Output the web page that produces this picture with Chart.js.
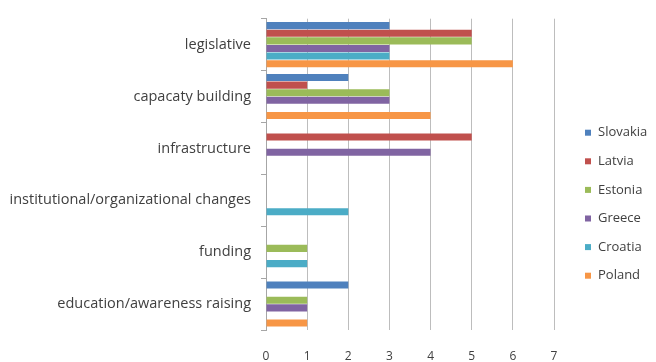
<!DOCTYPE html>
<html><head><meta charset="utf-8">
<script src="https://cdn.jsdelivr.net/npm/chart.js@4"></script>
<style>
html,body{margin:0;padding:0;background:#fff}
#wrap{width:656px;height:362px;position:relative}
</style>
</head><body>
<div id="wrap"><canvas id="c"></canvas></div>
<script>
// Measures by area, counted per country
const categories = ['legislative', 'capacaty building', 'infrastructure',
  'institutional/organizational changes', 'funding', 'education/awareness raising'];
const countries = ['Slovakia', 'Latvia', 'Estonia', 'Greece', 'Croatia', 'Poland'];
const slovakia = [3, 2, 0, 0, 0, 2];
const latvia   = [5, 1, 5, 0, 0, 0];
const estonia  = [5, 3, 0, 0, 1, 1];
const greece   = [3, 3, 4, 0, 0, 1];
const croatia  = [3, 0, 0, 2, 1, 0];
const poland   = [6, 4, 0, 0, 0, 1];
const xTicks   = [0, 1, 2, 3, 4, 5, 6, 7];

const seriesValues = [slovakia, latvia, estonia, greece, croatia, poland];
const colors = ['#4F81BD', '#C0504D', '#9BBB59', '#8064A2', '#4BACC6', '#F79646'];
const FONT = 'Open Sans';
const TEXT = '#404040';

// Legend drawn to the right of the plot, one row per country
const sideLegend = {
  id: 'sideLegend',
  afterDraw(chart) {
    const ctx = chart.ctx;
    const area = chart.chartArea;
    const x = area.right + 31;
    const y0 = area.top + 114;
    const step = 28.6;
    ctx.save();
    ctx.font = '13px "' + FONT + '"';
    ctx.textBaseline = 'middle';
    ctx.textAlign = 'left';
    chart.data.datasets.forEach((ds, i) => {
      const y = y0 + i * step;
      ctx.fillStyle = ds.backgroundColor;
      ctx.fillRect(x, y - 3, 6, 6);
      ctx.fillStyle = TEXT;
      ctx.fillText(ds.label, x + 13, y);
    });
    ctx.restore();
  }
};

new Chart(document.getElementById('c'), {
  type: 'bar',
  data: {
    labels: categories,
    datasets: countries.map((name, i) => ({
      label: name,
      data: seriesValues[i],
      backgroundColor: colors[i],
      borderWidth: 0,
      categoryPercentage: 0.88,
      barPercentage: 0.93
    }))
  },
  options: {
    indexAxis: 'y',
    responsive: true,
    maintainAspectRatio: false,
    animation: false,
    layout: { padding: { left: 0, right: 102, top: 14, bottom: 0 } },
    plugins: { legend: { display: false }, tooltip: { enabled: false } },
    scales: {
      x: {
        min: 0, max: 7,
        afterBuildTicks(scale) { scale.ticks = xTicks.map(v => ({ value: v })); },
        afterFit(scale) { scale.height = 32; },
        grid: { color: '#bdbdbd', lineWidth: 1, drawTicks: false },
        border: { display: false },
        ticks: { color: TEXT, font: { family: FONT, size: 12 }, padding: 19 }
      },
      y: {
        afterFit(scale) { scale.width = 266; },
        grid: { drawOnChartArea: false, drawTicks: true, tickLength: 5, color: '#a6a6a6', offset: true },
        border: { display: true, color: '#a6a6a6', width: 1 },
        ticks: { color: TEXT, font: { family: FONT, size: 14.5 }, padding: 10 }
      }
    }
  },
  plugins: [sideLegend]
});
</script>
</body></html>
